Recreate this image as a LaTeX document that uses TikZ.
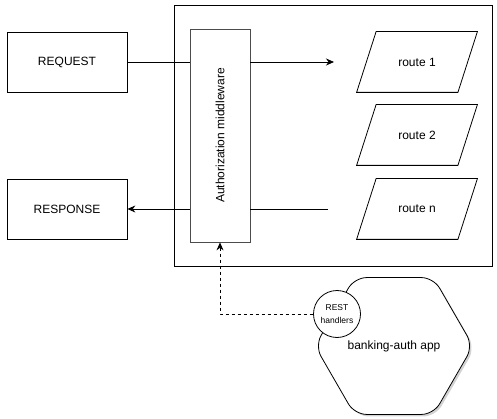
\documentclass[tikz,border=0pt]{standalone}
\usepackage{fontspec}
\setmainfont{Liberation Sans}
\usetikzlibrary{arrows.meta}
\usetikzlibrary{positioning}
\usetikzlibrary{shapes.geometric}
\usetikzlibrary{shadows}

\tikzset{
    box/.style={rectangle, draw, thick, minimum width=120pt, minimum height=60pt, inner sep=0pt},
    route/.style={rectangle, minimum width=120pt, minimum height=60pt, inner sep=0pt},
    arr/.style={-{Stealth[length=8pt, width=7pt]}},
}

\begin{document}
\begin{tikzpicture}[x=1pt, y=-1pt, font=\fontsize{12}{14}\selectfont, line width=0.8pt]
    \useasboundingbox (0,0) rectangle (497,419);

    \node[box, minimum width=318pt, minimum height=261pt] (server) at (333,135.5) {};
    \node[box] (request) at (67,62) {REQUEST};
    \node[box] (response) at (67,209) {RESPONSE};
    \node[box, draw=black!70, minimum width=60pt, minimum height=213pt] (mw) at (220,135.5) {};
    \node[rotate=90] (mwtext) at (mw.center) {Authorization middleware};

    \node[route] (route1) at (417,62) {route 1};
    \node[route] (route2) at (417,135) {route 2};
    \node[route] (routen) at (417,209) {route n};
    % parallelogram outlines
    \foreach \r in {route1,route2,routen}
        \draw[thick] (\r.south west) -- ([xshift=19.5pt]\r.north west) -- (\r.north east)
            -- ([xshift=-19.5pt]\r.south east) -- cycle;

    \node[regular polygon, regular polygon sides=6, draw, thick, fill=white, minimum size=158pt,
        inner sep=0pt, outer sep=0pt, rounded corners=12pt,
        drop shadow={opacity=0.35, shadow xshift=2pt, shadow yshift=-2pt}] (app) at (394,346) {banking-auth app};
    \node[circle, draw, thick, fill=white, minimum size=47pt, inner sep=0pt, align=center,
        font=\fontsize{8.5}{13}\selectfont] (rest) at (337,314) {REST\\handlers};

    \coordinate (r1in) at (334,62);
    \coordinate (rnout) at (328,209);

    \draw (request) -- (mw.west |- request);
    \draw[arr] (mw.east |- r1in) -- (r1in);
    \draw (rnout) -- (mw.east |- rnout);
    \draw[arr] (mw.west |- response) -- (response);
    \draw[arr, {Stealth[length=8pt, width=7pt]}-, dashed] (mw.south) |- (rest.west);
\end{tikzpicture}
\end{document}
